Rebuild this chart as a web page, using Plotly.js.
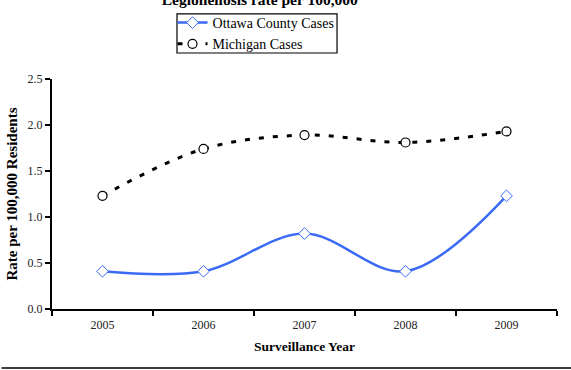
<!DOCTYPE html>
<html><head><meta charset="utf-8">
<script src="https://cdn.plot.ly/plotly-3.0.1.min.js"></script>
<style>html,body{margin:0;padding:0;background:#fff}#c{width:571px;height:370px}</style>
</head><body><div id="c"></div>
<script>
const years = ['2005','2006','2007','2008','2009'];
const ottawa = [0.41, 0.41, 0.82, 0.41, 1.23];
const michigan = [1.23, 1.74, 1.89, 1.81, 1.93];
const yTicks = [0, 0.5, 1.0, 1.5, 2.0, 2.5];

const serif = 'Liberation Serif, Times New Roman, serif';
const traces = [
  {x: years, y: ottawa, name: 'Ottawa County Cases', type: 'scatter', mode: 'lines+markers',
   line: {color: '#3b6af5', width: 2.5, shape: 'spline', smoothing: 1},
   marker: {symbol: 'diamond', size: 9, color: '#ffffff', line: {color: '#3b6af5', width: 1}}},
  {x: years, y: michigan, name: 'Michigan Cases', type: 'scatter', mode: 'lines+markers',
   line: {color: '#000000', width: 3, dash: '5px,9px', shape: 'spline', smoothing: 1},
   marker: {symbol: 'circle', size: 9, color: '#ffffff', line: {color: '#000000', width: 1.2}}}
];
const layout = {
  width: 571, height: 370,
  margin: {l: 52, r: 14, t: 79, b: 61, autoexpand: false},
  paper_bgcolor: '#fff', plot_bgcolor: '#fff',
  font: {family: serif, color: '#000'},
  title: {text: '<b>Legionellosis rate per 100,000</b>', font: {size: 15.5, family: serif, color: '#000'},
          x: 0.455, xanchor: 'center', y: 1.0, yref: 'container', yanchor: 'middle'},
  showlegend: true,
  legend: {x: 0.404, xanchor: 'center', y: 1.313, yanchor: 'top', borderwidth: 0,
           bgcolor: 'rgba(0,0,0,0)', font: {size: 14, family: serif}, tracegroupgap: 0, itemwidth: 30},
  xaxis: {type: 'category', tickson: 'boundaries', ticks: 'outside', ticklen: 5, tickwidth: 1.5, tickcolor: '#000',
          showline: true, linecolor: '#000', linewidth: 2, showgrid: false, zeroline: false,
          ticklabelstandoff: 4,
          tickfont: {size: 12, family: serif, color: '#222'},
          title: {text: '<b>Surveillance Year</b>', font: {size: 13.5, family: serif}, standoff: 10},
          range: [-0.5, 4.5]},
  yaxis: {range: [0, 2.5], tickvals: yTicks, ticktext: yTicks.map(v => v.toFixed(1)), ticks: 'outside', ticklen: 5,
          tickwidth: 1.5, tickcolor: '#000', showline: true, linecolor: '#000', linewidth: 2, showgrid: false,
          zeroline: false, tickfont: {size: 12, family: serif, color: '#222'},
          title: {text: '<b>Rate per 100,000 Residents</b>', font: {size: 15, family: serif}, standoff: 6}},
  shapes: [
    {type: 'line', xref: 'paper', yref: 'paper', x0: -0.1, x1: 1.03, y0: -0.257, y1: -0.257,
     line: {color: '#000', width: 1.5}},
    {type: 'rect', xref: 'paper', yref: 'paper', x0: 0.2475, x1: 0.5644, y0: 1.113, y1: 1.283,
     line: {color: '#000', width: 1.2}, fillcolor: 'rgba(0,0,0,0)'}
  ]
};
Plotly.newPlot('c', traces, layout, {displayModeBar: false, staticPlot: true});
</script></body></html>
